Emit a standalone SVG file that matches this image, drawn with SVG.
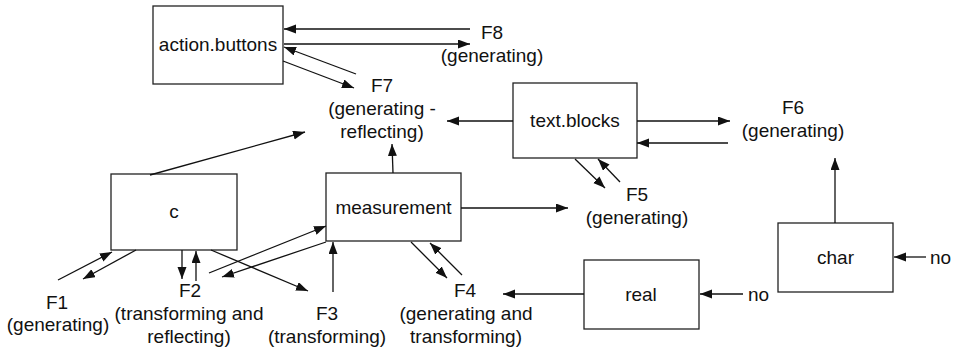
<svg xmlns="http://www.w3.org/2000/svg" width="957" height="351" viewBox="0 0 957 351">
<style>
.box{fill:#fff;stroke:#222;stroke-width:1.3}
.t{font-family:"Liberation Sans",Arial,sans-serif;font-size:19px;fill:#111;text-anchor:middle}
.ts{font-family:"Liberation Sans",Arial,sans-serif;font-size:19px;fill:#111}
.c line{stroke:#111;stroke-width:1.3;marker-end:url(#ah)}
</style>
<defs>
<marker id="ah" markerUnits="userSpaceOnUse" markerWidth="13" markerHeight="10" refX="12" refY="4.5" orient="auto">
<path d="M0,0 L12,4.5 L0,9 z" fill="#111"/>
</marker>
</defs>
<rect width="957" height="351" fill="#fff"/>
<g id="action_buttons"><rect class="box" x="153" y="6" width="130" height="78"/><text class="t" x="218" y="51">action.buttons</text></g>
<g id="text_blocks"><rect class="box" x="513" y="83" width="124" height="75"/><text class="t" x="575" y="127">text.blocks</text></g>
<g id="measurement"><rect class="box" x="326" y="173" width="135" height="68"/><text class="t" x="393.5" y="214">measurement</text></g>
<g id="c"><rect class="box" x="111" y="174" width="126" height="76"/><text class="t" x="174" y="218">c</text></g>
<g id="real"><rect class="box" x="584" y="260" width="115" height="69"/><text class="t" x="641" y="301">real</text></g>
<g id="char"><rect class="box" x="778" y="223" width="115" height="69"/><text class="t" x="835.5" y="264">char</text></g>
<g id="F1"><text class="t" x="57" y="309">F1</text><text class="t" x="58" y="331">(generating)</text></g>
<g id="F2"><text class="t" x="190" y="297">F2</text><text class="t" x="189" y="320">(transforming and</text><text class="t" x="189" y="343">reflecting)</text></g>
<g id="F3"><text class="t" x="327" y="320">F3</text><text class="t" x="327" y="343">(transforming)</text></g>
<g id="F4"><text class="t" x="465" y="297">F4</text><text class="t" x="466" y="320">(generating and</text><text class="t" x="466" y="343">transforming)</text></g>
<g id="F5"><text class="t" x="637" y="201">F5</text><text class="t" x="637" y="224">(generating)</text></g>
<g id="F6"><text class="t" x="793" y="114">F6</text><text class="t" x="793" y="137">(generating)</text></g>
<g id="F7"><text class="t" x="382" y="92">F7</text><text class="t" x="382" y="115">(generating -</text><text class="t" x="382" y="138">reflecting)</text></g>
<g id="F8"><text class="t" x="492" y="39">F8</text><text class="t" x="492" y="62">(generating)</text></g>
<g id="no1"><text class="ts" x="748" y="301">no</text></g>
<g id="no2"><text class="ts" x="930" y="264">no</text></g>
<g class="c" id="connectors">
<line x1="470" y1="29" x2="284" y2="29"/>
<line x1="284" y1="44" x2="470" y2="44"/>
<line x1="283" y1="61" x2="354" y2="88"/>
<line x1="356" y1="74" x2="284" y2="47"/>
<line x1="150" y1="175" x2="305" y2="132"/>
<line x1="393" y1="173" x2="392" y2="144"/>
<line x1="513" y1="121" x2="447" y2="121"/>
<line x1="637" y1="121" x2="730" y2="121"/>
<line x1="728" y1="143" x2="637" y2="143"/>
<line x1="575" y1="159" x2="605" y2="188"/>
<line x1="620" y1="182" x2="598" y2="159"/>
<line x1="461" y1="208" x2="568" y2="208"/>
<line x1="58" y1="280" x2="112" y2="252"/>
<line x1="136" y1="250" x2="83" y2="279"/>
<line x1="182" y1="250" x2="182" y2="279"/>
<line x1="196" y1="281" x2="196" y2="251"/>
<line x1="209" y1="273" x2="326" y2="226"/>
<line x1="326" y1="242" x2="222" y2="277"/>
<line x1="211" y1="250" x2="308" y2="291"/>
<line x1="333" y1="292" x2="333" y2="242"/>
<line x1="411" y1="242" x2="447" y2="278"/>
<line x1="462" y1="275" x2="430" y2="243"/>
<line x1="584" y1="294" x2="503" y2="294"/>
<line x1="743" y1="294" x2="700" y2="294"/>
<line x1="926" y1="257" x2="894" y2="257"/>
<line x1="835" y1="223" x2="835" y2="158"/>
</g>
</svg>
